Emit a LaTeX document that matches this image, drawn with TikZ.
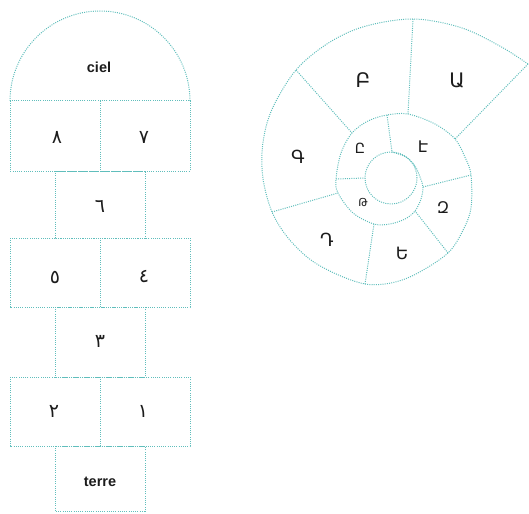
\documentclass[tikz,border=0pt]{standalone}
\usepackage{fontspec}
\setmainfont{Liberation Sans}
\newfontfamily\arabicfont[Script=Arabic]{DejaVu Sans}
\newfontfamily\armfont{DejaVu Sans}
\definecolor{tealc}{RGB}{96,190,188}
\definecolor{txt}{RGB}{28,28,28}
\begin{document}
\begin{tikzpicture}[x=1pt,y=-1pt,
  grid/.style={draw=tealc, line width=1pt, dash pattern=on 1pt off 1.2pt},
  lbl/.style={text=txt, inner sep=0pt, font=\bfseries\fontsize{14.5}{14.5}\selectfont},
  dig/.style={text=txt, inner sep=0pt, font=\arabicfont\fontsize{19}{19}\selectfont},
  arm/.style={text=txt, inner sep=0pt, font=\armfont\fontsize{#1}{#1}\selectfont}]
\useasboundingbox (0,0) rectangle (529,513);
% ---------- hopscotch ----------
\draw[grid] (10,101) arc[start angle=180, end angle=0, radius=90pt];
\draw[grid] (10,101) rectangle (190,171);
\draw[grid] (100,101) -- (100,171);
\draw[grid] (55,171) rectangle (145,238);
\draw[grid] (10,238) rectangle (190,307);
\draw[grid] (100,238) -- (100,307);
\draw[grid] (55,307) rectangle (145,377);
\draw[grid] (10,377) rectangle (190,446);
\draw[grid] (100,377) -- (100,446);
\draw[grid] (55,446) rectangle (145,511);
\node[lbl] (ciel) at (99,67) {ciel};
\node[dig] (d8) at (57,137) {٨};
\node[dig] (d7) at (144,137) {٧};
\node[dig] (d6) at (100,206) {٦};
\node[dig] (d5) at (55,277) {٥};
\node[dig] (d4) at (144,277) {٤};
\node[dig] (d3) at (100,341) {٣};
\node[dig] (d2) at (54,411) {٢};
\node[dig] (d1) at (143,411) {١};
\node[lbl] (terre) at (100,482) {terre};
% ---------- spiral ----------
\coordinate (tip) at (528,64);
\coordinate (o1) at (413,19);
\coordinate (o2) at (296,70);
\coordinate (o3) at (272,212);
\coordinate (o4) at (365,284);
\coordinate (o5) at (448,253);
\coordinate (o6) at (471,175);
\coordinate (m0) at (455,139);
\coordinate (m1) at (408,114);
\coordinate (m7) at (387,115);
\coordinate (m2) at (352,133);
\coordinate (m8) at (336,179);
\coordinate (m3) at (338,193);
\coordinate (m4) at (374,224);
\coordinate (m5) at (415,211);
\coordinate (m6) at (423,187);
\coordinate (c0) at (392,152);
\coordinate (c1) at (365,178);
\draw[grid] plot[smooth, tension=0.55] coordinates {
  (tip) (501,46.7) (461,27.6) (o1) (364.3,26.5) (328.1,43.2) (o2)
  (272,109.3) (262.8,143.7) (262.9,178) (o3) (287.8,237.6) (309.8,259.2) (335.7,273.8) (o4)
  (391,283) (416,274) (o5) (463.7,228.9) (471.1,207.2) (o6)
  (465.4,158.1) (m0) (435,124) (m1) (m7) (368,121) (m2) (341,153) (m8) (m3)
  (353,213) (m4) (390,224) (405,219) (m5) (421,199) (m6) (420,177) (415,166) (406,157) (c0)};
\draw[grid] (391,178) circle[radius=26pt];
\draw[grid] (tip) -- (m0);
\draw[grid] (o1) -- (m1);
\draw[grid] (o2) -- (m2);
\draw[grid] (o3) -- (m3);
\draw[grid] (o4) -- (m4);
\draw[grid] (o5) -- (m5);
\draw[grid] (o6) -- (m6);
\draw[grid] (m7) -- (c0);
\draw[grid] (m8) -- (c1);
\node[arm=20] (a1) at (457,81) {Ա};
\node[arm=20] (a2) at (363,80) {Բ};
\node[arm=18] (a3) at (298,157) {Գ};
\node[arm=18] (a4) at (327,240) {Դ};
\node[arm=17] (a5) at (402,253) {Ե};
\node[arm=16] (a6) at (443,208) {Զ};
\node[arm=16] (a7) at (423,147) {Է};
\node[arm=14] (a8) at (360,148) {Ը};
\node[arm=11] (a9) at (363,202) {Թ};
\end{tikzpicture}
\end{document}
